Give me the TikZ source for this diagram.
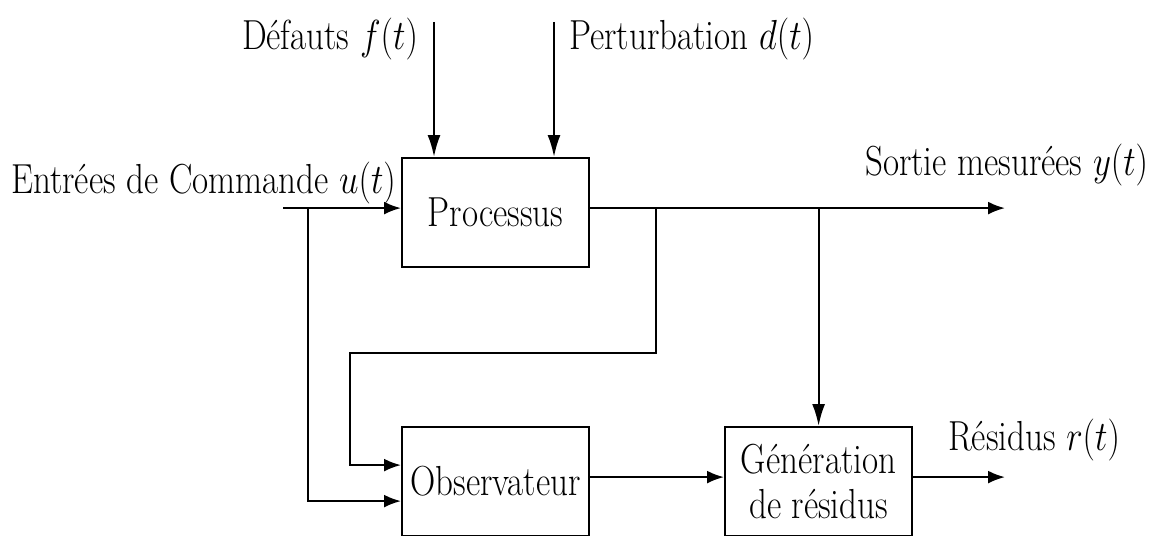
\documentclass[tikz,border=0pt]{standalone}
\usepackage{fix-cm}
\usepackage{graphicx}
\usetikzlibrary{arrows.meta}
% the lettering is set slightly taller than wide
\newcommand\tall[1]{\scalebox{1}[1.2]{#1}}
\begin{document}
\begin{tikzpicture}[x=0.5pt,y=-0.5pt,
  line width=1.1pt,
  blk/.style={draw, line width=1.1pt, minimum width=93.5pt, minimum height=54.5pt,
    inner sep=0pt, anchor=north west, align=center,
    font=\fontsize{17.5}{22.5}\selectfont},
  lbl/.style={inner sep=0pt, font=\fontsize{17.5}{20}\selectfont},
  flow/.style={-{Latex[length=8.5pt,width=6.5pt]}},
  drop/.style={-{Latex[length=11pt,width=6.5pt]}}]
\useasboundingbox (0,0) rectangle (1160,535);
\fill[white] (0,0) rectangle (1160,535);
\clip (0,0) rectangle (1160,535);

% blocks
\node[blk] (proc) at (401,157) {\tall{Processus}};
\node[blk] (obs)  at (401,426) {\tall{Observateur}};
\node[blk] (gen)  at (724,426) {\tall{Génération}\\\tall{de résidus}};

% signal labels
\node[lbl, anchor=base east] (lf) at (419,50)  {\tall{Défauts $f(t)$}};
\node[lbl, anchor=base west] (ld) at (568,50)  {\tall{Perturbation $d(t)$}};
\node[lbl, anchor=base west] (lu) at (10,193)  {\tall{Entrées de Commande $u(t)$}};
\node[lbl, anchor=base west] (ly) at (864,175) {\tall{Sortie mesurées $y(t)$}};
\node[lbl, anchor=base west] (lr) at (947,450) {\tall{Résidus $r(t)$}};

% ports, free ends and branch points
\path ([yshift=2.25pt]proc.west) coordinate (pin)
      ([yshift=2.25pt]proc.east) coordinate (pout)
      ([yshift=2.25pt]obs.east)  coordinate (oout)
      ([yshift=2.25pt]gen.west)  coordinate (gin)
      ([yshift=2.25pt]gen.east)  coordinate (gout);
\coordinate (uin)     at (pin -| 283,0);
\coordinate (usplit)  at (pin -| 308,0);
\coordinate (ysplitA) at (pout -| 656,0);
\coordinate (ysplitB) at (pout -| gen.north);
\coordinate (yend)    at (pout -| 1005,0);
\coordinate (rend)    at (gout -| 1005,0);
\coordinate (fin)     at (434,22);
\coordinate (din)     at (554,22);
\coordinate (fbkL)    at (350,353);

% connections
\draw[flow] (uin) -- (pin);
\draw[drop] (fin) -- (fin |- proc.north);
\draw[drop] (din) -- (din |- proc.north);
\draw[flow] (pout) -- (yend);
\draw[flow] (ysplitA) |- (fbkL) |- ([yshift=8.25pt]obs.west);
\draw[flow] (usplit) |- ([yshift=-9.75pt]obs.west);
\draw[drop] (ysplitB) -- (gen.north);
\draw[flow] (oout) -- (gin);
\draw[flow] (gout) -- (rend);
\end{tikzpicture}
\end{document}
